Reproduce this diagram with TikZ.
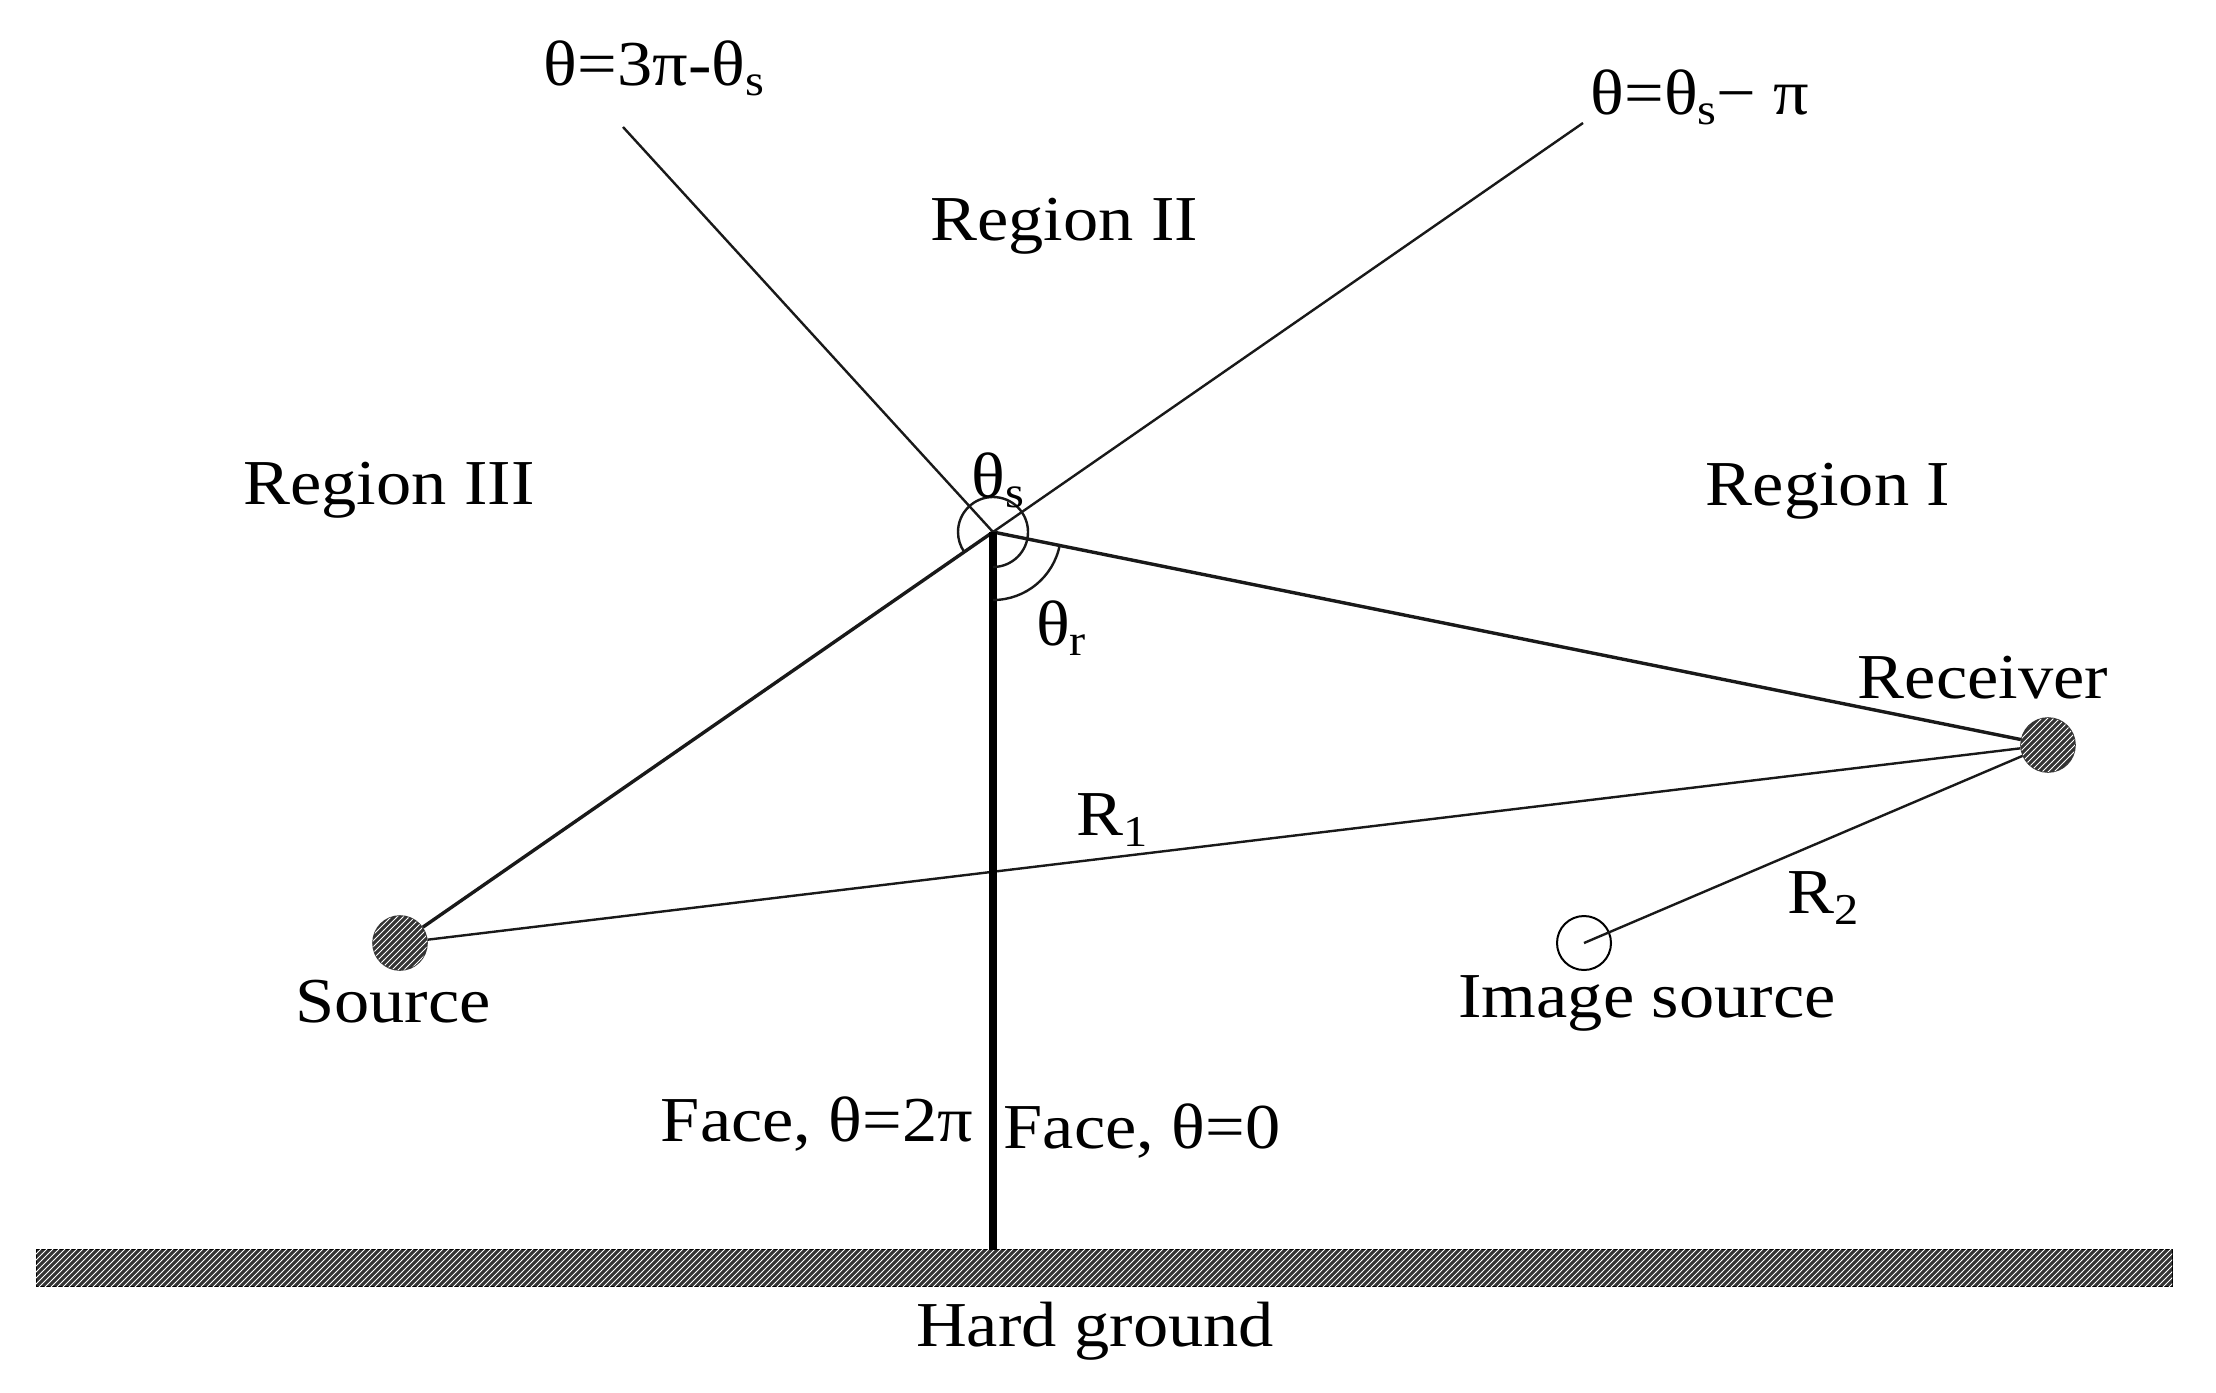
\documentclass[tikz,border=0pt]{standalone}
\usepackage{fontspec}
\setmainfont{Liberation Serif}[FakeStretch=1.1]
\usetikzlibrary{patterns}
\newcommand{\subs}[1]{\raisebox{-0.35ex}{\fontsize{22}{22}\selectfont #1}}
\tikzset{
  lab/.style={inner sep=0pt,font=\fontsize{32}{36}\selectfont,text=black},
  thinline/.style={line width=1.2pt,draw=black!90},
  midline/.style={line width=1.7pt,draw=black!90},
  wall/.style={line width=3.8pt,draw=black},
  hatched/.style={fill=black!80,postaction={pattern=north east lines,pattern color=white}},
  dotfill/.style={circle,inner sep=0pt,minimum size=27pt,draw=black!80,line width=.8pt,hatched},
  imgdot/.style={circle,inner sep=0pt,minimum size=27pt,draw=black,line width=1pt,fill=white},
  groundbar/.style={draw=black,line width=.5pt,hatched,inner sep=0pt,minimum width=1068pt,minimum height=18.5pt}
}
\begin{document}
\begin{tikzpicture}[x=.5pt,y=-.5pt]
\useasboundingbox (0,0) rectangle (2216,1392);
\fill[white] (0,0) rectangle (2216,1392);
\node[groundbar] (ground) at (1104,1268) {};
\coordinate (apex) at (993,532);
\coordinate (ul) at (623,127);
\coordinate (ur) at (1583,123);
\coordinate (foot) at (993,1250);
\node[dotfill] (src) at (400,943) {};
\node[dotfill] (rcv) at (2048,745) {};
\node[imgdot] (img) at (1584,943) {};
\draw[thinline] (ul) -- (apex);
\draw[thinline] (apex) -- (ur);
\draw[midline] (src) -- (apex);
\draw[midline] (apex) -- (rcv);
\draw[thinline] (src) -- (rcv);
\draw[thinline] (img.center) -- (rcv);
\draw[wall] (apex) -- (foot);
\draw[thinline] (apex) ++(90:35) arc[start angle=90,end angle=-215,radius=35];
\draw[thinline] (apex) ++(11:68) arc[start angle=11,end angle=90,radius=68];
\node[lab] (t1) at (654,68) {θ=3π-θ\subs{s}};
\node[lab] (t2) at (1700,97) {θ=θ\subs{s}− π};
\node[lab] (r2) at (1064,226) {Region II};
\node[lab] (r3) at (389,490) {Region III};
\node[lab] (r1) at (1828,491) {Region I};
\node[lab] (ts) at (998,480) {θ\subs{s}};
\node[lab] (tr) at (1061,628) {θ\subs{r}};
\node[lab] (lrcv) at (1983,678) {Receiver};
\node[lab] (lr1) at (1112,820) {R\subs{1}};
\node[lab] (lr2) at (1823,898) {R\subs{2}};
\node[lab] (limg) at (1647,1003) {Image source};
\node[lab] (lsrc) at (393,1002) {Source};
\node[lab] (f2) at (817,1124) {Face, θ=2π};
\node[lab] (f0) at (1142,1131) {Face, θ=0};
\node[lab] (hg) at (1095,1331) {Hard ground};
\end{tikzpicture}
\end{document}
